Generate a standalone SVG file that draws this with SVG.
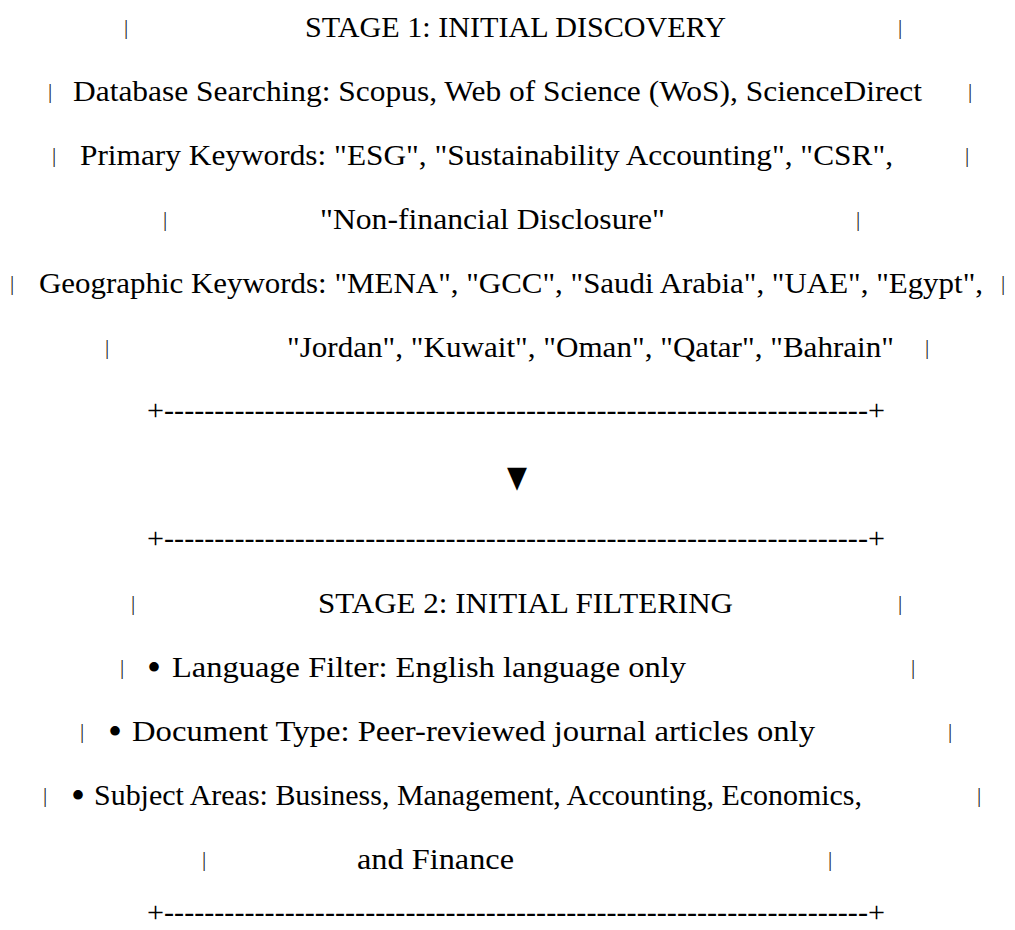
<svg xmlns="http://www.w3.org/2000/svg" width="1015" height="930" viewBox="0 0 1015 930">
  <style>
    .t { font-family: "Liberation Serif", "Times New Roman", serif; font-size: 29px; fill: #000; }
    .p { font-family: "Liberation Serif", "Times New Roman", serif; font-size: 21px; fill: #222; text-anchor: middle; }
    .b { font-family: "Liberation Serif", "Times New Roman", serif; font-size: 40px; fill: #000; text-anchor: middle; }
    .a { font-family: "DejaVu Sans", sans-serif; font-size: 26px; fill: #000; text-anchor: middle; }
  </style>
  <rect width="1015" height="930" fill="#fff"/>

  <!-- Stage 1 box: discovery -->
  <g id="stage1">
    <text class="p" x="126" y="34">|</text>
    <text class="t" x="305" y="37" textLength="421" lengthAdjust="spacingAndGlyphs">STAGE 1: INITIAL DISCOVERY</text>
    <text class="p" x="900" y="34">|</text>

    <text class="p" x="50" y="98">|</text>
    <text class="t" x="73" y="101" textLength="849" lengthAdjust="spacingAndGlyphs">Database Searching: Scopus, Web of Science (WoS), ScienceDirect</text>
    <text class="p" x="970" y="98">|</text>

    <text class="p" x="54" y="162">|</text>
    <text class="t" x="80" y="165" textLength="813" lengthAdjust="spacingAndGlyphs">Primary Keywords: "ESG", "Sustainability Accounting", "CSR",</text>
    <text class="p" x="967" y="162">|</text>

    <text class="p" x="165" y="226">|</text>
    <text class="t" x="320" y="229" textLength="345" lengthAdjust="spacingAndGlyphs">"Non-financial Disclosure"</text>
    <text class="p" x="858" y="226">|</text>

    <text class="p" x="12" y="290">|</text>
    <text class="t" x="39" y="293" textLength="944" lengthAdjust="spacingAndGlyphs">Geographic Keywords: "MENA", "GCC", "Saudi Arabia", "UAE", "Egypt",</text>
    <text class="p" x="1003" y="290">|</text>

    <text class="p" x="107" y="354">|</text>
    <text class="t" x="287" y="357" textLength="607" lengthAdjust="spacingAndGlyphs">"Jordan", "Kuwait", "Oman", "Qatar", "Bahrain"</text>
    <text class="p" x="927" y="354">|</text>

    <text class="t" x="147" y="420" textLength="738" lengthAdjust="spacingAndGlyphs">+----------------------------------------------------------------------+</text>
  </g>

  <!-- Flow between the stages -->
  <g id="connectors">
    <text class="a" x="517" y="487" transform="translate(517 487) scale(1 1.15) translate(-517 -487)">▼</text>
  </g>

  <!-- Stage 2 box: filtering -->
  <g id="stage2">
    <text class="t" x="147" y="548" textLength="738" lengthAdjust="spacingAndGlyphs">+----------------------------------------------------------------------+</text>

    <text class="p" x="133" y="610">|</text>
    <text class="t" x="318" y="613" textLength="415" lengthAdjust="spacingAndGlyphs">STAGE 2: INITIAL FILTERING</text>
    <text class="p" x="900" y="610">|</text>

    <text class="p" x="122" y="674">|</text>
    <text class="b" x="154" y="681">•</text>
    <text class="t" x="172" y="677" textLength="514" lengthAdjust="spacingAndGlyphs">Language Filter: English language only</text>
    <text class="p" x="913" y="674">|</text>

    <text class="p" x="82" y="738">|</text>
    <text class="b" x="115" y="745">•</text>
    <text class="t" x="132" y="741" textLength="683" lengthAdjust="spacingAndGlyphs">Document Type: Peer-reviewed journal articles only</text>
    <text class="p" x="950" y="738">|</text>

    <text class="p" x="45" y="802">|</text>
    <text class="b" x="78" y="809">•</text>
    <text class="t" x="94" y="805" textLength="768" lengthAdjust="spacingAndGlyphs">Subject Areas: Business, Management, Accounting, Economics,</text>
    <text class="p" x="979" y="802">|</text>

    <text class="p" x="204" y="866">|</text>
    <text class="t" x="357" y="869" textLength="157" lengthAdjust="spacingAndGlyphs">and Finance</text>
    <text class="p" x="830" y="866">|</text>

    <text class="t" x="147" y="922" textLength="738" lengthAdjust="spacingAndGlyphs">+----------------------------------------------------------------------+</text>
  </g>
</svg>
